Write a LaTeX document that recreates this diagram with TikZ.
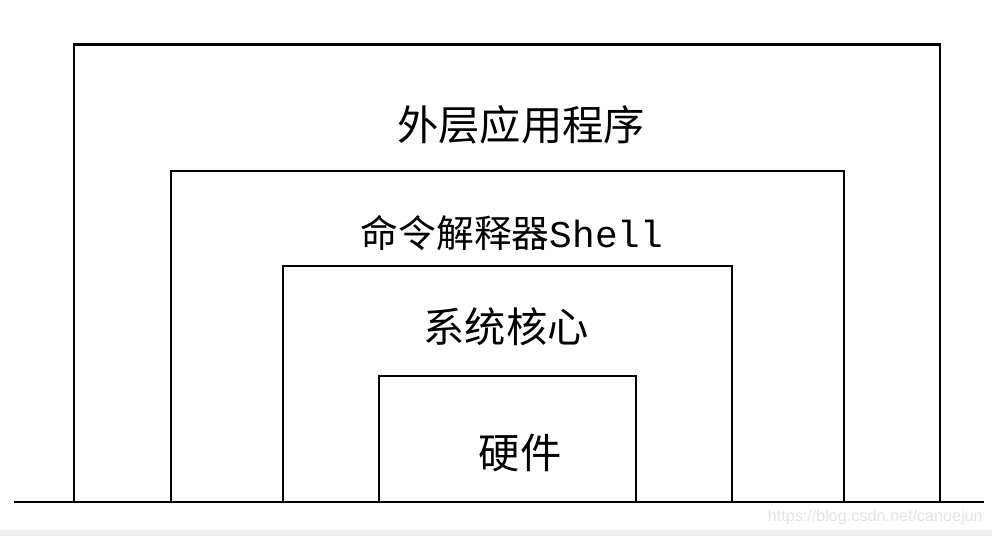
\documentclass[tikz,border=0pt]{standalone}
\usepackage{fontspec}
\setmainfont{Liberation Serif}
\newfontfamily\cjk{Noto Sans CJK SC}
\newfontfamily\shellfont{Liberation Mono}
\newfontfamily\markfont{Liberation Sans}

\begin{document}
\begin{tikzpicture}[x=0.02cm, y=-0.02cm,
    layer/.style={line width=1.7pt},
    tag/.style={font=\cjk\fontsize{23.5}{27}\selectfont, inner sep=0pt}]

  \useasboundingbox (0,0) rectangle (992,536);

  % page shade at the bottom
  \fill[black!6] (0,530) rectangle (992,536);

  % ground line
  \coordinate (gl) at (14,502);
  \coordinate (gr) at (984,502);

  % layers, outside in
  \draw[layer] (74,502) |- (940,45) -- (940,502); % outer apps
  \draw[layer] (171,502) |- (844,171) -- (844,502); % shell
  \draw[layer] (283,502) |- (732,266) -- (732,502); % kernel
  \draw[layer] (379,502) |- (636,376) -- (636,502); % hardware
  \draw[layer] (gl) -- (gr);

  % layer names
  \node[tag] (app) at (521,125) {外层应用程序};
  \node[tag, font=\cjk\fontsize{21.5}{26}\selectfont] (shell) at (512,233)
    {命令解释器{\shellfont Shell}};
  \node[tag] (kernel) at (506,327) {系统核心};
  \node[tag] (hw) at (520,453) {硬件};

  % watermark
  \node[anchor=east, text=black!11, inner sep=0pt,
    font=\markfont\fontsize{9.2}{11}\selectfont] (mark) at (983,517)
    {https://blog.csdn.net/canoejun};

\end{tikzpicture}
\end{document}
